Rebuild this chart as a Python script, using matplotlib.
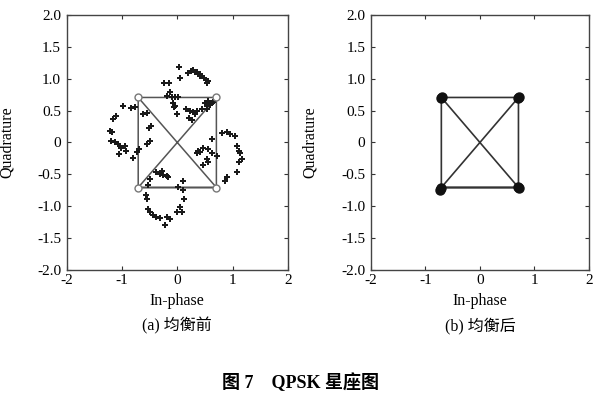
import matplotlib.pyplot as plt

plt.rcParams['font.family'] = ['Liberation Serif', 'Noto Sans CJK SC']
plt.rcParams['axes.unicode_minus'] = False

# received symbols before equalization
pre_i = [0.03, 0.24, 0.29, 0.35, 0.41, 0.44, 0.48, 0.52, 0.55, 0.53, 0.41, 0.32, 0.20, 0.04,
         -0.24, -0.15, -0.13, -0.18, -0.10, -0.04, 0.02, -0.08, -0.04, -0.01, -0.06,
         0.16, 0.23, 0.29, 0.35, 0.44, 0.53, 0.56, 0.50, 0.22, 0.26, 0.32,
         -0.98, -0.83, -0.77, -0.62, -0.55, -1.10, -1.16, -1.22, -1.18, -1.19, -1.13, -1.07,
         -1.04, -1.01, -0.95, -0.92, -1.05, -0.81, -0.73, -0.69, -0.50, -0.55, -0.47, -0.51,
         0.81, 0.90, 0.96, 1.05, 1.08, 1.11, 1.14, 1.17, 1.11, 1.08, 0.90, 0.87,
         0.72, 0.62, 0.56, 0.47, 0.41, 0.35, 0.53, 0.56, 0.47, 0.38, 0.62,
         -0.38, -0.32, -0.25, -0.19, -0.16, -0.28, -0.50, -0.53, -0.56, -0.55, -0.53, -0.50,
         -0.44, -0.38, -0.32, -0.22, -0.18, -0.13, -0.01, 0.08, 0.05, 0.12, 0.11, 0.11, 0.02,
         0.53, 0.59, 0.62, 0.64]
pre_q = [1.18, 1.13, 1.14, 1.11, 1.08, 1.05, 1.01, 0.98, 0.96, 0.93, 1.04, 1.10, 1.09, 1.01,
         0.93, 0.93, 0.80, 0.73, 0.72, 0.72, 0.71, 0.62, 0.57, 0.45, 0.56,
         0.52, 0.49, 0.48, 0.49, 0.52, 0.57, 0.65, 0.62, 0.39, 0.36, 0.44,
         0.57, 0.54, 0.55, 0.44, 0.47, 0.41, 0.37, 0.18, 0.16, 0.03, 0.00, -0.03,
         -0.05, -0.08, -0.05, -0.13, -0.18, -0.25, -0.15, -0.11, 0.03, -0.03, 0.26, 0.23,
         0.15, 0.16, 0.13, 0.10, -0.05, -0.13, -0.16, -0.26, -0.31, -0.47, -0.54, -0.60,
         -0.21, -0.16, -0.10, -0.08, -0.15, -0.16, -0.26, -0.31, -0.36, -0.13, 0.05,
         -0.47, -0.49, -0.51, -0.52, -0.54, -0.44, -0.57, -0.67, -0.83, -0.88, -1.04, -1.09,
         -1.14, -1.17, -1.19, -1.30, -1.17, -1.20, -1.09, -1.09, -1.01, -0.88, -0.75, -0.61, -0.70,
         0.53, 0.59, 0.62, 0.64]

# ideal QPSK constellation
ideal_i = [-0.707, 0.707, 0.707, -0.707]
ideal_q = [0.707, 0.707, -0.707, -0.707]

# symbols after equalization
post_i = [-0.72, -0.70, 0.70, 0.71, 0.70, 0.71, -0.72, -0.74]
post_q = [0.70, 0.71, 0.70, 0.72, -0.70, -0.72, -0.72, -0.74]

# square outline and diagonals through the ideal points
path_i = [-0.707, 0.707, 0.707, -0.707, -0.707, 0.707, -0.707, 0.707]
path_q = [0.707, 0.707, -0.707, -0.707, 0.707, -0.707, -0.707, 0.707]

x_ticks = [-2, -1, 0, 1, 2]
y_ticks = [-2.0, -1.5, -1.0, -0.5, 0.0, 0.5, 1.0, 1.5, 2.0]
y_labels = ['-2.0', '-1.5', '-1.0', '-0.5', '0', '0.5', '1.0', '1.5', '2.0']

fig = plt.figure(figsize=(6.01, 3.98), dpi=100)
ax1 = fig.add_axes([0.111, 0.322, 0.368, 0.64])
ax2 = fig.add_axes([0.617, 0.322, 0.363, 0.64])

ax1.plot(path_i, path_q, color='#555555', lw=1.1)
ax1.plot(pre_i, pre_q, 'P', color='#1a1a1a', ms=4.5, mew=0)
ax1.plot(ideal_i, ideal_q, 'o', mfc='white', mec='#777777', ms=5, mew=1)

ax2.plot(path_i, path_q, color='#333333', lw=1.2)
ax2.plot(post_i, post_q, 'o', color='#111111', ms=6.5)

for ax, lx in ((ax1, -0.235), (ax2, -0.243)):
    ax.set_xlim(-2, 2)
    ax.set_ylim(-2, 2)
    ax.set_xticks(x_ticks)
    ax.set_yticks(y_ticks)
    ax.set_yticklabels(y_labels)
    ax.tick_params(direction='in', top=True, right=True, labelsize=11, length=3,
                   color='#333333')
    ax.tick_params(axis='x', pad=3)
    ax.tick_params(axis='y', pad=4)
    for s in ax.spines.values():
        s.set_color('#444444')
        s.set_linewidth(1.0)
    ax.set_xlabel('In-phase', fontsize=11.5, labelpad=4)
    ax.set_ylabel('Quadrature', fontsize=11.5)
    ax.yaxis.set_label_coords(lx, 0.5)

fig.text(0.295, 0.181, '(a) 均衡前', ha='center', va='center', fontsize=11.5)
fig.text(0.799, 0.181, '(b) 均衡后', ha='center', va='center', fontsize=11.5)
fig.text(0.5, 0.038, '图 7    QPSK 星座图', ha='center', va='center', fontsize=13,
         fontweight='bold')

fig.savefig('out.png', dpi=100)
